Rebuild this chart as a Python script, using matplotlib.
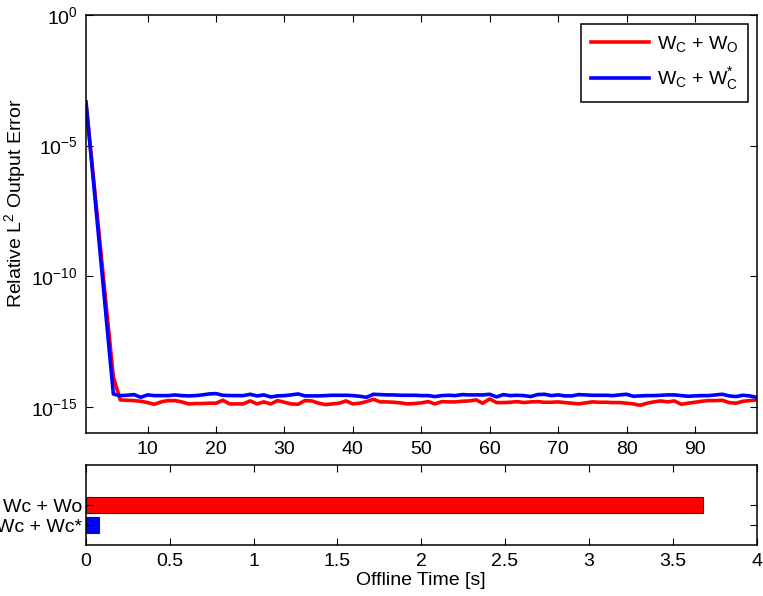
import numpy as np
import matplotlib
matplotlib.use('Agg')
import matplotlib.pyplot as plt
from matplotlib.ticker import NullLocator

plt.rcParams['font.family'] = ['Liberation Sans', 'DejaVu Sans']
plt.rcParams['mathtext.fontset'] = 'custom'
plt.rcParams['mathtext.rm'] = 'Liberation Sans'
plt.rcParams['mathtext.it'] = 'Liberation Sans'
plt.rcParams['font.size'] = 14

# relative output error per iteration: first steps, then plateau (units of 1e-15)
iters = np.arange(1, 100)
err_wo_head = [4.3e-4, 9.8e-7, 2.5e-9, 5.6e-12, 1.4e-14]
err_wo_tail = [1.85, 1.79, 1.74, 1.64, 1.46, 1.26, 1.55, 1.74, 1.74, 1.55,
               1.30, 1.34, 1.34, 1.38, 1.38, 1.79, 1.30, 1.30, 1.30, 1.69,
               1.30, 1.55, 1.30, 1.74, 1.50, 1.30, 1.26, 1.74, 1.69,
               1.38, 1.22, 1.30, 1.38, 1.69, 1.30, 1.38, 1.59, 1.96, 1.55,
               1.55, 1.50, 1.42, 1.30, 1.34, 1.42, 1.59, 1.30, 1.59, 1.55,
               1.55, 1.64, 1.69, 1.85, 1.38, 2.01, 1.46, 1.46, 1.50, 1.59,
               1.46, 1.55, 1.59,
               1.50, 1.50, 1.55, 1.46, 1.38, 1.30, 1.42, 1.55, 1.50, 1.50,
               1.46, 1.46, 1.38, 1.30, 1.15, 1.38, 1.55, 1.69, 1.55, 1.69,
               1.26, 1.38, 1.50, 1.64, 1.74, 1.74, 1.79, 1.46, 1.38, 1.64,
               1.74, 1.85]
err_wc_head = [4.7e-4, 7.6e-7, 1.2e-9, 1.9e-12, 3.1e-15]
err_wc_tail = [2.70, 2.78, 2.95, 2.33, 2.87, 2.70, 2.70, 2.70, 2.87, 2.70,
               2.63, 2.70, 2.87, 3.13, 3.22, 2.78, 2.70, 2.70, 2.70, 3.04,
               2.63, 2.87, 2.40, 2.63, 2.70, 2.87, 3.13, 2.63, 2.63,
               2.63, 2.70, 2.78, 2.78, 2.78, 2.70, 2.55, 2.33, 3.04, 2.95,
               2.87, 2.87, 2.78, 2.78, 2.78, 2.70, 2.70, 2.48, 2.70, 2.78,
               2.70, 2.95, 2.87, 2.87, 2.87, 3.04, 2.40, 2.95, 2.70, 2.78,
               2.70, 2.48, 2.95,
               3.04, 2.70, 2.87, 2.63, 2.63, 2.95, 2.87, 2.78, 2.78, 2.78,
               2.70, 2.87, 3.04, 2.55, 2.63, 2.70, 2.70, 2.78, 2.87, 2.87,
               2.70, 2.55, 2.63, 2.70, 2.70, 2.87, 3.04, 2.63, 2.48, 2.78,
               2.63, 2.33]

err_wo = np.concatenate([err_wo_head, np.array(err_wo_tail) * 1e-15])
err_wc = np.concatenate([err_wc_head, np.array(err_wc_tail) * 1e-15])

# offline timings
methods = ['Wc + Wc*', 'Wc + Wo']
offline_time = [0.08, 3.68]
bar_colors = ['#0000ff', '#ff0000']
time_ticks = [0, 0.5, 1, 1.5, 2, 2.5, 3, 3.5, 4]
time_ticklabels = ['0', '0.5', '1', '1.5', '2', '2.5', '3', '3.5', '4']

fig = plt.figure(figsize=(7.63, 5.96), dpi=100)
W, H = 763.0, 596.0
ax1 = fig.add_axes([86 / W, 1 - 433 / H, (756.5 - 86) / W, (433 - 15) / H])
ax2 = fig.add_axes([86 / W, 1 - 545 / H, (756.5 - 86) / W, (545 - 465) / H])

ax1.semilogy(iters, err_wo, color='#ff0000', lw=2.6,
             label=r'W$_\mathregular{C}$ + W$_\mathregular{O}$')
ax1.semilogy(iters, err_wc, color='#0000ff', lw=2.6,
             label=r'W$_\mathregular{C}$ + W$_\mathregular{C}^{*}$')
ax1.set_xlim(1, 99)
ax1.set_ylim(1e-16, 1e0)
ax1.set_xticks(np.arange(10, 100, 10))
ax1.set_yticks([1e-15, 1e-10, 1e-5, 1e0])
ax1.yaxis.set_minor_locator(NullLocator())
ax1.set_ylabel(r'Relative L$^\mathregular{2}$ Output Error')
ax1.yaxis.set_label_coords(-0.086, 0.55)
leg = ax1.legend(loc='upper right', bbox_to_anchor=(748 / W, 1 - 24 / H),
                 bbox_transform=fig.transFigure, fancybox=False,
                 edgecolor='black', framealpha=1, handlelength=3.0,
                 handletextpad=0.4, labelspacing=0.6, borderaxespad=0,
                 borderpad=0.5, fontsize=14)
leg.get_frame().set_linewidth(1.1)

ax2.barh([1, 2], offline_time, height=0.8, color=bar_colors,
         edgecolor='#222222', linewidth=0.8)
ax2.set_xlim(0, 4)
ax2.set_ylim(0, 4)
ax2.set_xticks(time_ticks)
ax2.set_xticklabels(time_ticklabels)
ax2.set_yticks([1, 2])
ax2.set_yticklabels(methods)
ax2.set_xlabel('Offline Time [s]', labelpad=1)

for ax in (ax1, ax2):
    ax.tick_params(direction='in', top=True, right=True, length=5, width=0.8,
                   pad=6)
    for sp in ax.spines.values():
        sp.set_linewidth(1.1)
ax2.tick_params(axis='y', length=5, pad=3)

fig.savefig('out.png', dpi=100)
